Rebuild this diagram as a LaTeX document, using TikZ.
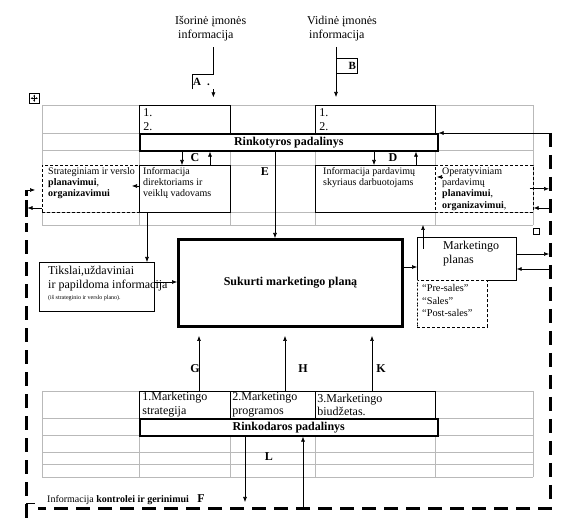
\documentclass[tikz,border=0pt]{standalone}
\usepackage{fontspec}
\setmainfont{Liberation Serif}
\usepackage{tikz}
\newcommand{\chico}{\fontsize{10}{11}\selectfont}
\newcommand{\medio}{\fontsize{12}{14}\selectfont}
\newcommand{\grande}{\fontsize{12}{13.5}\selectfont}
\usetikzlibrary{arrows.meta, positioning}
\tikzstyle{caja} = [draw, fill=white, rectangle, anchor=north west, inner sep=0pt, line width=0.7pt]
\tikzstyle{gruesa} = [caja, line width=1.6pt, font=\medio\bfseries]
\tikzstyle{central} = [caja, line width=3pt, font=\medio\bfseries]
\tikzstyle{punteada} = [caja, dash pattern=on 3pt off 2pt, line width=0.6pt]
\tikzstyle{texto} = [anchor=north west, align=left, inner sep=0pt, font=\chico]
\tikzstyle{letra} = [inner sep=0pt, font=\grande\bfseries]
\tikzstyle{flecha} = [-{Latex[length=5pt,width=4pt]}, line width=0.6pt]
\tikzstyle{lazo} = [line width=3pt, dash pattern=on 14pt off 8pt]
\tikzstyle{rejilla} = [gray!55, line width=0.6pt]

\begin{document}
\begin{tikzpicture}[x=1pt, y=-1pt]
	\useasboundingbox (0,0) rectangle (563,518);
	\foreach \y in {105,133,150,165,212,225} \draw[rejilla] (42,\y) -- (533,\y);
	\foreach \x in {42,139,230,315,435,533} \draw[rejilla] (\x,105) -- (\x,225);
	\foreach \y in {391,418,435,452,464,477} \draw[rejilla] (42,\y) -- (533,\y);
	\foreach \x in {42,139,230,315,435,533} \draw[rejilla] (\x,391) -- (\x,477);

	\coordinate (lazoNE) at (550,133);
	\coordinate (lazoSE) at (550,509);
	\coordinate (lazoSO) at (26,509);
	\coordinate (lazoNO) at (26,190);

	\node[texto, font=\medio] (isorine) at (175,16) {Išorinė įmonės\\\hspace{3pt}informacija};
	\node[texto, font=\medio] (vidine) at (307,16) {Vidinė įmonės\\\hspace{2pt}informacija};
	\node[anchor=north west, minimum width=21, minimum height=15, inner sep=0pt] (cajaA) at (192,74) {};
	\node[anchor=west, inner sep=0pt, font=\fontsize{11}{12}\selectfont\bfseries] at ([xshift=1pt]cajaA.west) {A\hspace{6pt}.};
	\node[caja, minimum width=21, minimum height=15] (cajaB) at (336,58) {};
	\node[anchor=east, inner sep=0pt, font=\fontsize{11}{12}\selectfont\bfseries] at ([xshift=-1.5pt]cajaB.east) {B};

	\node[anchor=north west, draw, minimum width=10, minimum height=10, inner sep=0pt, line width=0.5pt] (manija) at (29,93) {};
	\draw[{Latex[length=2pt,width=2pt]}-{Latex[length=2pt,width=2pt]}, line width=0.4pt] ([xshift=1.5pt]manija.west) -- ([xshift=-1.5pt]manija.east);
	\draw[{Latex[length=2pt,width=2pt]}-{Latex[length=2pt,width=2pt]}, line width=0.4pt] ([yshift=-1.5pt]manija.north) -- ([yshift=1.5pt]manija.south);
	\node[anchor=north west, draw, minimum width=6, minimum height=6, inner sep=0pt, line width=0.5pt] (asa) at (533,228) {};

	\node[caja, minimum width=91, minimum height=28, text width=83, align=left, font=\medio] (uno1) at (139,105) {1.\\2.};
	\node[caja, minimum width=120, minimum height=28, text width=112, align=left, font=\medio] (uno2) at (315,105) {1.\\2.};
	\node[gruesa, minimum width=298, minimum height=17] (rinkotyros) at (139,133) {Rinkotyros padalinys};

	\node[punteada, minimum width=97, minimum height=47] (strat) at (42,165) {};
	\node[texto] at ([shift={(6pt,-2.5pt)}]strat.north west) {Strateginiam ir verslo\\\textbf{planavimui},\\\textbf{organizavimui}};
	\node[caja, minimum width=91, minimum height=47] (direktoriai) at (139,165) {};
	\node[texto] at ([shift={(4pt,-2.5pt)}]direktoriai.north west) {Informacija\\direktoriams ir\\veiklų vadovams};
	\node[caja, minimum width=120, minimum height=47] (pardavimai) at (315,165) {};
	\node[texto] at ([shift={(8pt,-2.5pt)}]pardavimai.north west) {Informacija pardavimų\\skyriaus darbuotojams};
	\node[punteada, minimum width=98, minimum height=47] (oper) at (435,165) {};
	\node[texto, font=\fontsize{10}{11.3}\selectfont] at ([shift={(7pt,-2.5pt)}]oper.north west) {Operatyviniam\\pardavimų\\\textbf{planavimui},\\\textbf{organizavimui},};

	\node[central, minimum width=224, minimum height=87] (sukurti) at (177,238) {Sukurti marketingo planą};
	\node[caja, minimum width=115, minimum height=49] (tikslai) at (39,262) {};
	\node[texto, font=\grande] at ([shift={(9pt,-4pt)}]tikslai.north west) {Tikslai,uždaviniai\\ir papildoma informacija\\[-2pt]{\fontsize{6}{7}\selectfont (iš strateginio ir verslo plano).}};
	\node[caja, minimum width=99, minimum height=43] (mplanas) at (417,237) {};
	\node[texto, font=\grande] at ([shift={(26pt,-4pt)}]mplanas.north west) {Marketingo\\planas};
	\node[punteada, minimum width=70, minimum height=47] (presales) at (417,280) {};
	\draw[gray, dash pattern=on 1pt off 1pt, line width=0.6pt] (presales.north west) -- (presales.south west);
	\node[texto, font=\fontsize{10.3}{12.5}\selectfont] at ([shift={(5pt,-4.5pt)}]presales.north west) {“Pre-sales”\\“Sales”\\“Post-sales”};

	\node[caja, minimum width=91, minimum height=27, text width=85, align=left, font=\grande] (strategija) at (139,391) {1.Marketingo\\strategija};
	\node[caja, minimum width=85, minimum height=27, text width=81, align=left, font=\grande] (programos) at (230,391) {2.Marketingo\\programos};
	\node[caja, minimum width=120, minimum height=27, text width=116, align=left, font=\grande] (biudzetas) at (315,391) {3.Marketingo\\biudžetas.};
	\node[gruesa, minimum width=298, minimum height=17] (rinkodaros) at (139,418) {Rinkodaros padalinys};

	\node[letra] (etC) at (195,158) {C};
	\node[letra] (etD) at (393,158) {D};
	\node[letra] (etE) at (265,172) {E};
	\node[letra] (etG) at (195,369) {G};
	\node[letra] (etH) at (303,369) {H};
	\node[letra] (etK) at (381,369) {K};
	\node[letra] (etL) at (269,457) {L};
	\node[texto, anchor=west] (kontrole) at (47,500) {Informacija \textbf{kontrolei ir gerinimui}};
	\node[letra] (etF) at (201,499) {F};

	\draw (cajaA.south west) -- (cajaA.north west) -- (cajaA.north east) -- ++(0,-27);
	\draw[flecha] (cajaA.south east) -- ++(0,8);
	\draw[flecha] (cajaB.north west) ++(0,-11) -- ++(0,50);

	\draw[flecha] (rinkotyros.south -| 182,0) -- (direktoriai.north -| 182,0);
	\draw[flecha] (direktoriai.north -| 210,0) -- (rinkotyros.south -| 210,0);
	\draw[flecha] (rinkotyros.south -| 374,0) -- (pardavimai.north -| 374,0);
	\draw[flecha] (pardavimai.north -| 416,0) -- (rinkotyros.south -| 416,0);
	\draw[flecha] (rinkotyros.south -| 275,0) -- (sukurti.north -| 275,0);
	\draw[flecha] (direktoriai.west |- 0,186) -- ++(-7,0);
	\draw[flecha] ([shift={(8pt,-12pt)}]oper.north west) -- ++(-6,0);
	\draw[flecha] (direktoriai.south -| 147,0) -- (tikslai.north -| 147,0);
	\draw[flecha] (tikslai.east |- 0,282) -- (sukurti.west |- 0,282);
	\draw[flecha] (sukurti.east |- 0,267) -- (mplanas.west |- 0,267);
	\draw[flecha] ([shift={(6pt,-12pt)}]mplanas.north west) -- ++(0,-24);

	\draw[flecha, shorten >=8pt] (strategija.north -| 199,0) -- (sukurti.south -| 199,0);
	\draw[flecha, shorten >=8pt] (programos.north -| 285,0) -- (sukurti.south -| 285,0);
	\draw[flecha, shorten >=8pt] (biudzetas.north -| 372,0) -- (sukurti.south -| 372,0);
	\draw[flecha, shorten >=7pt] (rinkodaros.south -| 245,0) -- (lazoSO -| 245,0);
	\draw[flecha] (lazoSO -| 303,0) -- (rinkodaros.south -| 303,0);

	\draw[lazo] (lazoNE) -- (lazoSE) -- ([xshift=12pt]lazoSO);
	\draw[lazo] (lazoSO) ++(0,9) -- ([yshift=-33pt]lazoNO);
	\draw[line width=3pt] (lazoNO) -- ++(0,6);
	\draw[line width=3pt] ([yshift=-10pt]lazoNO) -- ++(0,17);
	\draw[line width=0.7pt] ([yshift=6pt]lazoSO) -- ++(9,0);
	\draw[flecha] (lazoNO) -- ++(9,0);
	\draw[flecha, shorten >=1.5pt] (strat.west |- 0,208) -- (lazoNO |- 0,208);
	\draw[flecha] (lazoNE) -- (rinkotyros.north east);
	\draw[flecha, shorten >=1pt] ([xshift=-4pt]oper.east) -- (oper.east -| lazoNE);
	\draw[flecha] (lazoNE |- 0,208) -- (oper.east |- 0,208);
	\draw[flecha, shorten >=1pt] (mplanas.east |- 0,254) -- (lazoNE |- 0,254);
	\draw[flecha] (lazoNE |- 0,269) -- (mplanas.east |- 0,269);
\end{tikzpicture}
\end{document}
